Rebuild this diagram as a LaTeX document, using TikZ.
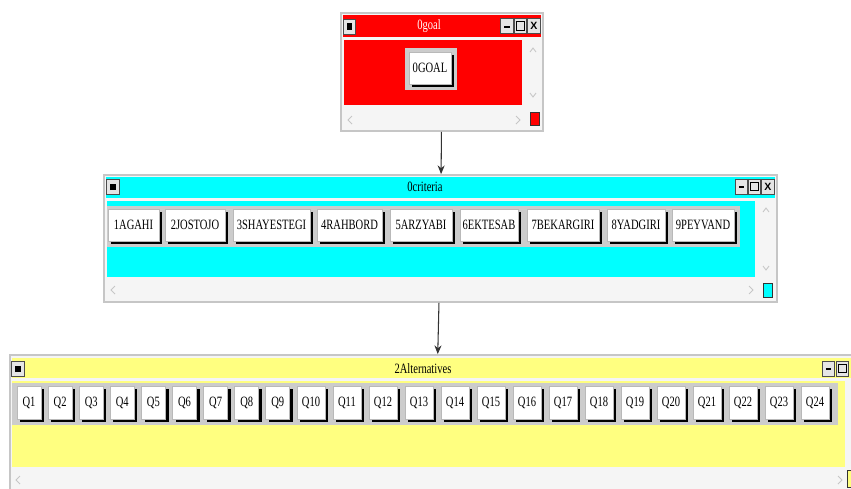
\documentclass[tikz,border=0pt]{standalone}
\usepackage{fontspec}
\setmainfont{Liberation Serif}
\setsansfont{Liberation Sans}
\usetikzlibrary{arrows.meta,shadows}
\definecolor{altyellow}{HTML}{FFFF80}
\definecolor{critcyan}{HTML}{00FFFF}
\definecolor{goalred}{HTML}{FF0000}
\newcommand{\stretchtxt}[1]{\scalebox{1}[1.35]{#1}}

\begin{document}
\begin{tikzpicture}[x=0.02cm,y=-0.02cm]

% Window styles
\tikzset{
    win/.style={draw=gray!45, line width=1pt, fill=gray!8, inner sep=0pt},
    btn/.style={
        fill=white, draw=gray!55, inner sep=0pt,
        drop shadow={shadow xshift=1.8pt, shadow yshift=-1.8pt, opacity=1, fill=black},
        font=\fontsize{6}{7}\selectfont},
    ttl/.style={font=\fontsize{6}{7}\selectfont, inner sep=0pt},
    tbtn/.style={
        draw=black!70, fill=gray!20, inner sep=0pt,
        minimum width=0.25cm, minimum height=0.3cm,
        font=\sffamily\bfseries\fontsize{6}{6}\selectfont},
    chev/.style={draw=gray!45, line width=0.5pt},
    arr/.style={draw=black!80, line width=0.6pt, -{Stealth[length=5pt,width=4pt]}},
}
\useasboundingbox (0,0) rectangle (851,488);

% Window frames
\node[win, minimum width=4.04cm, minimum height=2.36cm] (goal) at (442,72) {};
\node[win, minimum width=13.46cm, minimum height=2.54cm] (crit) at (440.5,238.5) {};
\node[win, minimum width=17.04cm, minimum height=2.9cm] (alt) at (436,427.5) {};

% Title bars
\fill[goalred] (343,15) rectangle (541,37);
\fill[critcyan] (106,177) rectangle (775,198);
\fill[altyellow] (12,358) rectangle (862,378);
\node[ttl, text=white] (goaltitle) at (429,26) {\stretchtxt{0goal}};
\node[ttl] (crittitle) at (425,187) {\stretchtxt{0criteria}};
\node[ttl] (alttitle) at (423,369) {\stretchtxt{2Alternatives}};

% Title bar buttons
\node[tbtn] (goalsys) at (349.5,26.5) {\rule{3pt}{3.5pt}};
\node[tbtn] (goalmin) at (507,26) {\raisebox{-2pt}{\rule{3pt}{1.2pt}}};
\node[tbtn] (goalmax) at (520.5,26) {\setlength{\fboxsep}{0pt}\fbox{\rule{0pt}{4.5pt}\hspace{4.5pt}}};
\node[tbtn] (goalclose) at (534,26) {X};
\node[tbtn] (critsys) at (113,187) {\rule{3pt}{3.5pt}};
\node[tbtn] (critmin) at (741.5,186.5) {\raisebox{-2pt}{\rule{3pt}{1.2pt}}};
\node[tbtn] (critmax) at (754.5,186.5) {\setlength{\fboxsep}{0pt}\fbox{\rule{0pt}{4.5pt}\hspace{4.5pt}}};
\node[tbtn] (critclose) at (768,186.5) {X};
\node[tbtn] (altsys) at (18,369) {\rule{3pt}{3.5pt}};
\node[tbtn] (altmin) at (828.5,368.5) {\raisebox{-2pt}{\rule{3pt}{1.2pt}}};
\node[tbtn] (altmax) at (842.5,368.5) {\setlength{\fboxsep}{0pt}\fbox{\rule{0pt}{4.5pt}\hspace{4.5pt}}};

% Client areas
\fill[goalred] (344,40) rectangle (522,105);
\fill[critcyan] (107,201) rectangle (755,277);
\fill[altyellow] (12,381) rectangle (845,467);

% Scroll bars
\draw[chev] (530,52) -- (533,48) -- (536,52);
\draw[chev] (530,93) -- (533,97) -- (536,93);
\draw[chev] (352,116) -- (348,120) -- (352,124);
\draw[chev] (516,116) -- (520,120) -- (516,124);
\draw[chev] (763,212) -- (766,208) -- (769,212);
\draw[chev] (763,266) -- (766,270) -- (769,266);
\draw[chev] (115,286) -- (111,290) -- (115,294);
\draw[chev] (749,286) -- (753,290) -- (749,294);
\draw[chev] (20,476) -- (16,480) -- (20,484);
\draw[chev] (838,476) -- (842,480) -- (838,484);
\draw[fill=goalred, draw=black!80] (530,112) rectangle (539,125);
\draw[fill=critcyan, draw=black!80] (763,283) rectangle (772,297);
\draw[fill=altyellow, draw=black!80] (847,470) rectangle (856,487);

% Buttons
\fill[gray!40] (405,48) rectangle (457,90);
\node[btn, minimum width=0.84cm, minimum height=0.64cm] (goalbtn) at (430,68) {\stretchtxt{0GOAL}};

\fill[gray!40] (107,206) rectangle (740,247);
\foreach \l/\r/\t [count=\i] in {108/162/1AGAHI, 165/228/2JOSTOJO, 233/313/3SHAYESTEGI,
    317/385/4RAHBORD, 390/455/5ARZYABI, 460/521/6EKTESAB, 527/602/7BEKARGIRI,
    607/668/8YADGIRI, 672/737/9PEYVAND}
    \node[btn, minimum width={(\r-\l-3)*0.02cm}, minimum height=0.64cm] (c\i)
        at ({(\l+\r-3)/2},225) {\stretchtxt{\t}};

\fill[gray!40] (12,383) rectangle (838,425);
\foreach \i [evaluate=\i as \l using {\i<10 ? 17+(\i-1)*31.1 : 297+(\i-10)*36},
             evaluate=\i as \w using {\i<10 ? 24 : 28}] in {1,...,24}
    \node[btn, minimum width={\w*0.02cm}, minimum height=0.66cm] (q\i)
        at ({\l+\w/2},402.5) {\stretchtxt{Q\i}};

% Connectors
\draw[arr] (goal) -- (crit);
\draw[arr] (crit) -- (alt);
\end{tikzpicture}
\end{document}
